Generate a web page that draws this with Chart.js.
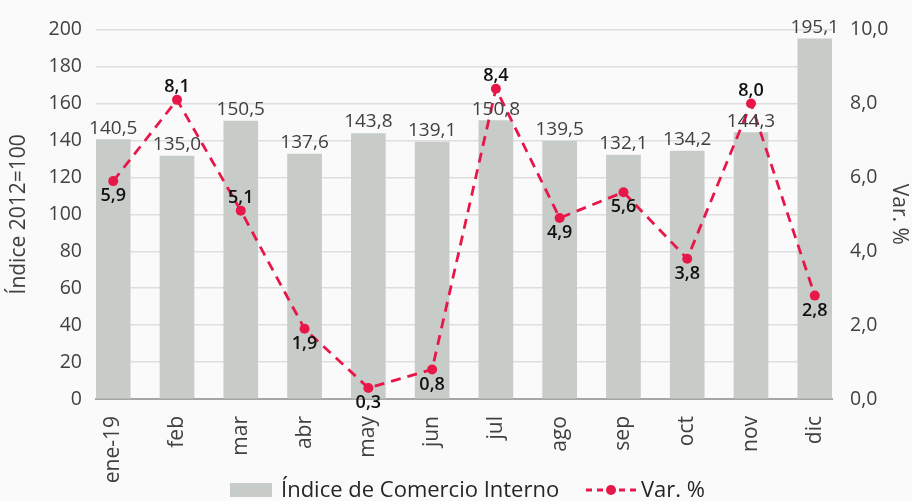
<!DOCTYPE html>
<html>
<head>
<meta charset="utf-8">
<script src="https://cdn.jsdelivr.net/npm/chart.js@4"></script>
<style>
  html, body { margin: 0; padding: 0; background: #fafafa; }
  #wrap { width: 912px; height: 501px; }
</style>
</head>
<body>
<div id="wrap"><canvas id="grafico" width="912" height="501"></canvas></div>
<script>
const meses = ["ene-19", "feb", "mar", "abr", "may", "jun", "jul", "ago", "sep", "oct", "nov", "dic"];
// alturas de las barras tal como se ven en el gráfico
const indice = [140.5, 131.5, 150.5, 132.6, 143.8, 139.1, 150.8, 139.5, 132.1, 134.2, 144.3, 195.1];
// etiquetas impresas sobre las barras
const indiceTxt = ["140,5", "135,0", "150,5", "137,6", "143,8", "139,1", "150,8", "139,5", "132,1", "134,2", "144,3", "195,1"];
const variacion = [5.9, 8.1, 5.1, 1.9, 0.3, 0.8, 8.4, 4.9, 5.6, 3.8, 8.0, 2.8];
// posición de la etiqueta de la variación: arriba o abajo del punto
const posVar = ["abajo", "arriba", "arriba", "abajo", "abajo", "abajo", "arriba", "abajo", "abajo", "abajo", "arriba", "abajo"];
const ticksIzq = [0, 20, 40, 60, 80, 100, 120, 140, 160, 180, 200];
const ticksDer = [0, 2, 4, 6, 8, 10];

const GRIS = "#c7ccc8";
const ROJO = "#e8174a";
const FUENTE = "'Open Sans', 'Noto Sans', sans-serif";

const coma = (v, d) => v.toFixed(d).replace(".", ",");

// --- etiquetas de datos ---
const etiquetas = {
  id: "etiquetas",
  afterDatasetsDraw(chart) {
    const ctx = chart.ctx;
    ctx.save();
    ctx.textAlign = "center";
    const barras = chart.getDatasetMeta(0).data;
    ctx.font = "19px " + FUENTE;
    ctx.fillStyle = "#404040";
    ctx.textBaseline = "alphabetic";
    barras.forEach((b, i) => ctx.fillText(indiceTxt[i], b.x, b.y - 6));

    const puntos = chart.getDatasetMeta(1).data;
    ctx.font = "600 18px " + FUENTE;
    ctx.fillStyle = "#111";
    puntos.forEach((p, i) => {
      if (posVar[i] === "arriba") {
        ctx.textBaseline = "alphabetic";
        ctx.fillText(coma(variacion[i], 1), p.x, p.y - 8);
      } else {
        ctx.textBaseline = "top";
        ctx.fillText(coma(variacion[i], 1), p.x, p.y + 6);
      }
    });
    ctx.restore();
  }
};

// --- leyenda dibujada a mano ---
const leyenda = {
  id: "leyenda",
  afterDraw(chart) {
    const ctx = chart.ctx;
    const y = 490;
    ctx.save();
    ctx.font = "22px " + FUENTE;
    ctx.textBaseline = "middle";
    ctx.textAlign = "left";

    ctx.fillStyle = GRIS;
    ctx.fillRect(230, y - 7, 42, 14);
    ctx.fillStyle = "#262626";
    ctx.fillText(chart.data.datasets[0].label, 281, y + 1);

    ctx.strokeStyle = ROJO;
    ctx.lineWidth = 2.8;
    ctx.setLineDash([6, 5]);
    ctx.beginPath();
    ctx.moveTo(586, y);
    ctx.lineTo(638, y);
    ctx.stroke();
    ctx.setLineDash([]);
    ctx.fillStyle = ROJO;
    ctx.beginPath();
    ctx.arc(611, y, 5, 0, Math.PI * 2);
    ctx.fill();
    ctx.fillStyle = "#262626";
    ctx.fillText(chart.data.datasets[1].label, 641, y + 1);
    ctx.restore();
  }
};

new Chart(document.getElementById("grafico"), {
  data: {
    datasets: [
      {
        type: "bar",
        label: "Índice de Comercio Interno",
        data: indice.map((v, i) => ({ x: i, y: v })),
        backgroundColor: GRIS,
        barThickness: 34,
        yAxisID: "y",
        order: 2
      },
      {
        type: "line",
        label: "Var. %",
        data: variacion.map((v, i) => ({ x: i, y: v })),
        borderColor: ROJO,
        backgroundColor: ROJO,
        borderWidth: 2.8,
        borderDash: [10, 7],
        pointRadius: 5,
        pointBackgroundColor: ROJO,
        pointBorderWidth: 0,
        tension: 0,
        yAxisID: "y2",
        order: 1
      }
    ]
  },
  options: {
    responsive: false,
    animation: false,
    layout: { padding: { top: 28, bottom: 10, left: 0, right: 0 } },
    plugins: { legend: { display: false }, tooltip: { enabled: false } },
    scales: {
      x: {
        type: "linear",
        offset: false,
        min: -0.27,
        max: 11.27,
        afterBuildTicks: s => { s.ticks = meses.map((_, i) => ({ value: i })); },
        afterFit: s => { s.height = 92; },
        grid: { display: false, drawTicks: false, offset: false },
        border: { color: "#a6a6a6", width: 2 },
        ticks: {
          autoSkip: false,
          minRotation: 90,
          maxRotation: 90,
          padding: 17,
          color: "#404040",
          font: { family: FUENTE, size: 21 },
          callback: v => meses[v]
        }
      },
      y: {
        position: "left",
        min: 0,
        max: 200,
        afterBuildTicks: s => { s.ticks = ticksIzq.map(v => ({ value: v })); },
        afterFit: s => { s.width = 96; },
        grid: { color: "#dedede", lineWidth: 1.5, drawTicks: false },
        border: { display: false },
        ticks: { padding: 14, color: "#404040", font: { family: FUENTE, size: 19.5 } },
        title: {
          display: true,
          text: "Índice 2012=100",
          color: "#404040",
          font: { family: FUENTE, size: 21 },
          padding: { top: 6, bottom: 0 }
        }
      },
      y2: {
        position: "right",
        min: 0,
        max: 10,
        afterBuildTicks: s => { s.ticks = ticksDer.map(v => ({ value: v })); },
        afterFit: s => { s.width = 80; },
        grid: { display: false, drawTicks: false },
        border: { display: false },
        ticks: {
          padding: 18,
          color: "#404040",
          font: { family: FUENTE, size: 19.5 },
          callback: v => coma(v, 1)
        },
        title: {
          display: true,
          text: "Var. %",
          color: "#404040",
          font: { family: FUENTE, size: 21 },
          padding: { top: 0, bottom: 0 }
        }
      }
    }
  },
  plugins: [etiquetas, leyenda]
});
</script>
</body>
</html>
